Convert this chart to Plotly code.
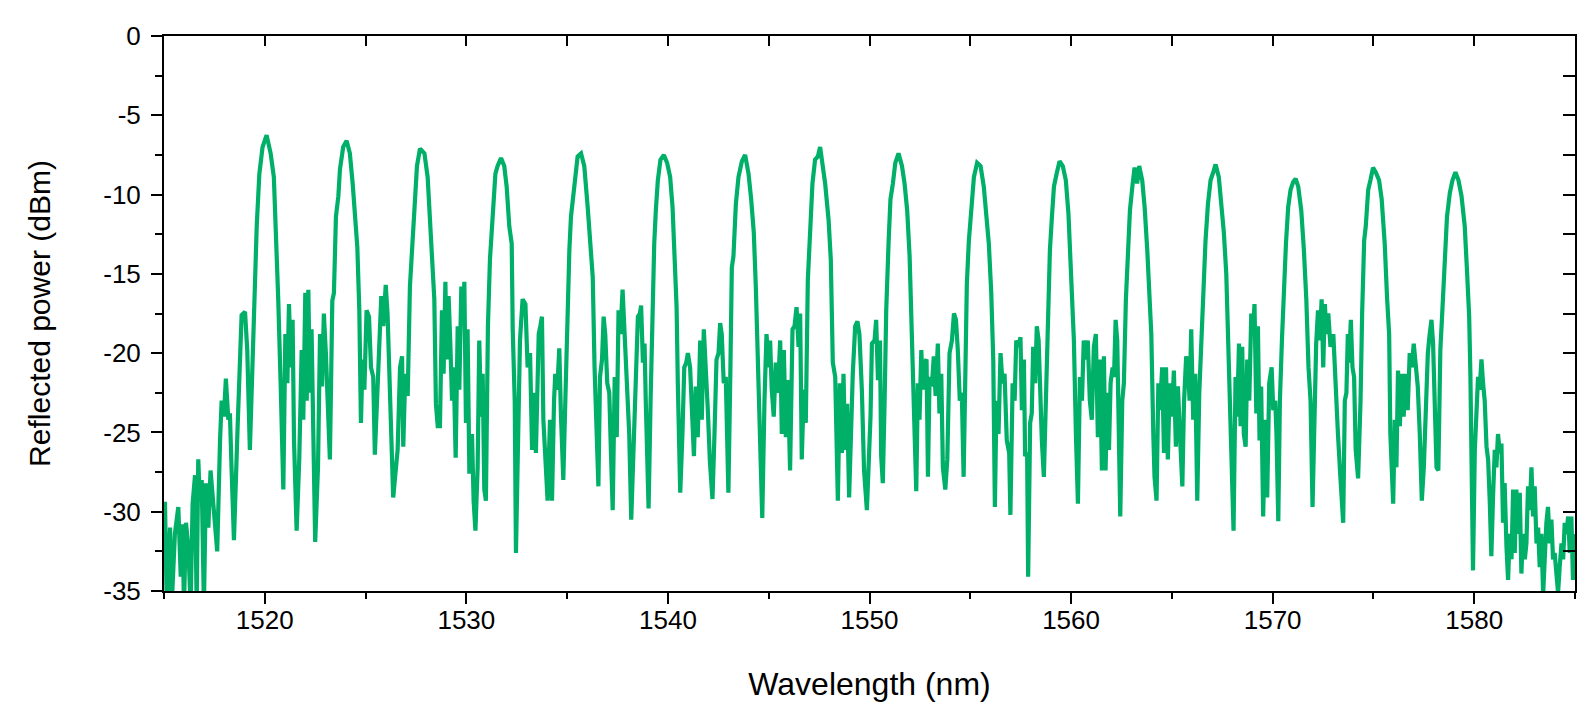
import plotly.graph_objects as go

# (wavelength nm, reflected power dBm), segment by segment
seg_1515_1526 = [
    (1515.00, -29.5), (1515.05, -29.5), (1515.13, -35.5), (1515.30, -31.0), (1515.38, -36.0),
    (1515.54, -31.4), (1515.71, -29.7), (1515.83, -34.1), (1515.92, -30.8), (1515.99, -36.0),
    (1516.09, -30.7), (1516.21, -32.3), (1516.32, -36.0), (1516.42, -29.5), (1516.54, -27.7),
    (1516.62, -36.0), (1516.70, -26.7), (1516.78, -29.3), (1516.87, -28.0), (1516.98, -36.0),
    (1517.08, -28.2), (1517.20, -31.0), (1517.31, -27.4), (1517.45, -29.5), (1517.53, -31.4),
    (1517.64, -32.5), (1517.78, -25.5), (1517.86, -23.0), (1517.97, -24.0), (1518.07, -21.6),
    (1518.19, -24.2), (1518.27, -23.8), (1518.35, -27.2), (1518.47, -31.8), (1518.64, -25.1),
    (1518.77, -19.8), (1518.85, -17.6), (1519.02, -17.4), (1519.13, -19.8), (1519.26, -26.1),
    (1519.36, -21.9), (1519.48, -16.7), (1519.60, -12.0), (1519.73, -8.7), (1519.89, -7.0),
    (1520.09, -6.25), (1520.29, -7.4), (1520.45, -8.9), (1520.55, -12.2), (1520.67, -16.7),
    (1520.79, -22.1), (1520.92, -28.6), (1521.02, -18.8), (1521.12, -21.9), (1521.20, -16.9),
    (1521.30, -20.9), (1521.38, -17.9), (1521.45, -25.5), (1521.58, -31.2), (1521.71, -26.7),
    (1521.83, -19.8), (1521.91, -24.2), (1522.01, -16.2), (1522.08, -23.0), (1522.16, -16.0),
    (1522.24, -22.5), (1522.32, -18.5), (1522.41, -26.1), (1522.50, -31.9), (1522.64, -27.2),
    (1522.74, -18.8), (1522.84, -22.1), (1522.93, -17.5), (1523.03, -20.0), (1523.15, -25.1),
    (1523.23, -26.7), (1523.35, -16.7), (1523.43, -16.2), (1523.53, -11.4), (1523.65, -10.1),
    (1523.73, -8.4), (1523.89, -7.0), (1524.06, -6.6), (1524.22, -7.4), (1524.36, -9.3),
    (1524.47, -11.0), (1524.59, -13.3), (1524.69, -17.3), (1524.77, -24.4), (1524.85, -20.4),
    (1524.94, -22.3), (1525.05, -17.3), (1525.17, -17.7), (1525.27, -20.9), (1525.38, -21.5),
    (1525.46, -26.4), (1525.58, -23.0), (1525.68, -19.2), (1525.78, -16.4), (1525.88, -18.3),
    (1526.00, -15.7), (1526.09, -17.5), (1526.18, -20.9), (1526.26, -25.5), (1526.37, -29.1),
]

seg_1526_1538 = [
    (1526.59, -26.1), (1526.71, -20.9), (1526.81, -20.2), (1526.87, -25.9), (1526.97, -21.3),
    (1527.09, -22.7), (1527.20, -15.8), (1527.30, -13.5), (1527.42, -10.1), (1527.55, -8.2),
    (1527.70, -7.1), (1527.92, -7.4), (1528.08, -8.9), (1528.20, -11.4), (1528.30, -13.3),
    (1528.41, -16.6), (1528.49, -23.2), (1528.58, -24.6), (1528.69, -24.6), (1528.79, -17.3),
    (1528.87, -21.3), (1528.96, -15.5), (1529.02, -20.4), (1529.12, -16.4), (1529.21, -19.6),
    (1529.29, -23.0), (1529.37, -20.9), (1529.47, -26.6), (1529.57, -18.3), (1529.65, -22.3),
    (1529.75, -15.8), (1529.85, -17.7), (1529.90, -15.5), (1529.98, -24.4), (1530.06, -18.5),
    (1530.15, -27.6), (1530.28, -25.1), (1530.36, -29.3), (1530.45, -31.2), (1530.56, -27.2),
    (1530.64, -19.2), (1530.73, -24.0), (1530.81, -21.3), (1530.89, -28.6), (1530.97, -29.3),
    (1531.07, -18.3), (1531.17, -14.1), (1531.30, -11.4), (1531.44, -8.7), (1531.55, -8.2),
    (1531.72, -7.7), (1531.88, -8.2), (1532.00, -9.5), (1532.13, -12.0), (1532.25, -13.1),
    (1532.30, -18.5), (1532.40, -23.0), (1532.46, -32.6), (1532.58, -23.0), (1532.66, -19.2),
    (1532.79, -16.6), (1532.93, -16.9), (1533.04, -20.9), (1533.16, -20.0), (1533.26, -26.1),
    (1533.36, -22.5), (1533.45, -26.3), (1533.59, -18.8), (1533.67, -18.3), (1533.75, -17.7),
    (1533.82, -24.2), (1533.92, -26.7), (1534.03, -29.3), (1534.15, -24.2), (1534.25, -29.3),
    (1534.35, -23.0), (1534.41, -21.3), (1534.51, -22.3), (1534.61, -19.7), (1534.69, -23.8),
    (1534.81, -28.0), (1534.91, -23.0), (1535.03, -16.0), (1535.11, -13.5), (1535.19, -11.4),
    (1535.31, -9.9), (1535.41, -8.7), (1535.52, -7.6), (1535.69, -7.4), (1535.85, -8.2),
    (1536.02, -10.8), (1536.13, -13.1), (1536.27, -15.2), (1536.36, -20.9), (1536.43, -23.4),
    (1536.55, -28.4), (1536.63, -21.5), (1536.73, -20.4), (1536.81, -17.7), (1536.89, -18.8),
    (1536.99, -21.9), (1537.09, -22.5), (1537.17, -26.1), (1537.26, -29.9), (1537.36, -21.5),
    (1537.46, -25.3), (1537.55, -17.3), (1537.64, -18.8), (1537.75, -16.0), (1537.85, -18.8),
    (1537.95, -22.5), (1538.08, -25.1), (1538.18, -30.5),
]

seg_1538_1550 = [
    (1538.34, -25.1), (1538.41, -21.9), (1538.51, -17.7), (1538.61, -17.5), (1538.67, -17.0),
    (1538.76, -20.6), (1538.84, -19.4), (1538.90, -23.0), (1538.97, -26.1), (1539.04, -29.8),
    (1539.14, -23.0), (1539.24, -16.6), (1539.32, -13.1), (1539.40, -11.0), (1539.50, -9.1),
    (1539.63, -7.8), (1539.80, -7.5), (1539.96, -8.0), (1540.11, -8.9), (1540.23, -10.8),
    (1540.33, -13.5), (1540.43, -17.1), (1540.49, -21.9), (1540.61, -28.8), (1540.72, -25.1),
    (1540.81, -20.9), (1540.91, -20.6), (1540.99, -20.0), (1541.10, -20.9), (1541.19, -23.0),
    (1541.29, -26.5), (1541.38, -22.1), (1541.48, -25.3), (1541.60, -19.2), (1541.68, -24.2),
    (1541.78, -18.5), (1541.88, -20.6), (1541.98, -23.6), (1542.08, -26.8), (1542.21, -29.2),
    (1542.31, -25.1), (1542.41, -20.4), (1542.51, -20.0), (1542.59, -18.1), (1542.67, -18.8),
    (1542.77, -21.9), (1542.87, -21.5), (1543.00, -28.8), (1543.10, -20.9), (1543.17, -14.6),
    (1543.25, -13.9), (1543.37, -10.6), (1543.50, -8.9), (1543.67, -7.9), (1543.83, -7.5),
    (1544.00, -8.7), (1544.13, -10.3), (1544.26, -12.4), (1544.36, -15.8), (1544.46, -20.0),
    (1544.56, -24.0), (1544.68, -30.4), (1544.79, -23.0), (1544.89, -18.8), (1545.00, -20.9),
    (1545.07, -19.2), (1545.15, -22.3), (1545.25, -24.0), (1545.35, -20.6), (1545.45, -22.5),
    (1545.57, -19.2), (1545.65, -25.1), (1545.75, -19.8), (1545.85, -25.3), (1545.95, -21.7),
    (1546.06, -27.4), (1546.18, -18.5), (1546.28, -18.3), (1546.38, -17.1), (1546.48, -19.6),
    (1546.56, -17.5), (1546.64, -26.7), (1546.74, -22.3), (1546.84, -24.4), (1546.94, -15.4),
    (1547.06, -11.6), (1547.17, -9.3), (1547.30, -7.8), (1547.44, -7.6), (1547.55, -7.0),
    (1547.67, -8.0), (1547.80, -9.3), (1547.97, -11.6), (1548.08, -14.1), (1548.18, -20.6),
    (1548.30, -21.5), (1548.43, -29.3), (1548.53, -21.9), (1548.63, -26.3), (1548.71, -21.3),
    (1548.79, -26.1), (1548.89, -23.2), (1548.99, -29.1), (1549.09, -23.0), (1549.17, -21.3),
    (1549.29, -18.3), (1549.40, -18.0), (1549.50, -18.8), (1549.62, -22.3), (1549.73, -27.4),
    (1549.87, -29.9),
]

seg_1550_1561 = [
    (1550.05, -24.0), (1550.12, -19.4), (1550.25, -19.2), (1550.33, -17.9), (1550.42, -21.7),
    (1550.52, -19.2), (1550.58, -26.5), (1550.66, -28.2), (1550.75, -23.0), (1550.83, -17.3),
    (1550.95, -12.9), (1551.04, -10.3), (1551.16, -9.3), (1551.28, -8.0), (1551.44, -7.4),
    (1551.61, -8.2), (1551.74, -9.3), (1551.87, -11.0), (1551.99, -13.9), (1552.07, -17.5),
    (1552.15, -21.5), (1552.23, -24.0), (1552.32, -28.7), (1552.40, -21.9), (1552.48, -24.2),
    (1552.57, -19.8), (1552.65, -22.3), (1552.73, -20.6), (1552.83, -20.4), (1552.90, -27.8),
    (1552.98, -21.5), (1553.09, -22.1), (1553.19, -20.2), (1553.28, -22.7), (1553.39, -19.4),
    (1553.47, -23.8), (1553.56, -21.3), (1553.64, -27.2), (1553.76, -28.6), (1553.86, -26.7),
    (1553.97, -20.0), (1554.09, -19.2), (1554.19, -17.5), (1554.29, -17.9), (1554.38, -19.8),
    (1554.48, -23.0), (1554.58, -22.5), (1554.67, -27.8), (1554.75, -21.3), (1554.83, -15.6),
    (1554.93, -12.9), (1555.05, -10.8), (1555.18, -8.9), (1555.34, -8.0), (1555.51, -8.2),
    (1555.67, -9.5), (1555.81, -11.4), (1555.92, -13.1), (1556.04, -16.2), (1556.14, -20.4),
    (1556.22, -29.7), (1556.30, -23.0), (1556.40, -25.1), (1556.50, -20.0), (1556.60, -21.9),
    (1556.70, -21.3), (1556.81, -25.5), (1556.93, -26.3), (1556.99, -30.2), (1557.10, -21.9),
    (1557.20, -23.0), (1557.28, -19.2), (1557.39, -19.6), (1557.49, -19.0), (1557.56, -23.6),
    (1557.66, -20.4), (1557.72, -26.5), (1557.82, -26.3), (1557.87, -34.1), (1557.97, -24.4),
    (1558.05, -23.8), (1558.12, -19.6), (1558.22, -21.9), (1558.30, -18.3), (1558.39, -19.2),
    (1558.47, -23.6), (1558.55, -25.5), (1558.65, -27.8), (1558.77, -21.3), (1558.85, -17.7),
    (1558.95, -13.5), (1559.05, -11.4), (1559.15, -9.5), (1559.28, -8.7), (1559.43, -7.9),
    (1559.59, -8.2), (1559.74, -9.1), (1559.87, -11.2), (1560.01, -15.0), (1560.14, -19.2),
    (1560.24, -25.1), (1560.34, -29.5), (1560.44, -21.5), (1560.54, -23.0), (1560.63, -19.2),
    (1560.75, -20.4), (1560.83, -19.2), (1560.93, -23.0), (1561.03, -24.2), (1561.13, -19.6),
    (1561.23, -18.8), (1561.33, -25.3), (1561.43, -20.4), (1561.53, -27.4),
]

seg_1561_1573 = [
    (1561.63, -20.2), (1561.71, -27.4), (1561.80, -22.5), (1561.88, -26.1), (1561.96, -21.9),
    (1562.06, -20.9), (1562.13, -21.5), (1562.21, -17.9), (1562.29, -19.2), (1562.36, -24.6),
    (1562.44, -30.3), (1562.54, -23.0), (1562.62, -21.9), (1562.72, -16.6), (1562.82, -12.9),
    (1562.92, -11.0), (1563.04, -9.5), (1563.15, -8.3), (1563.28, -9.3), (1563.38, -8.2),
    (1563.53, -9.1), (1563.65, -10.8), (1563.78, -13.5), (1563.88, -15.8), (1563.98, -18.8),
    (1564.08, -25.1), (1564.14, -27.8), (1564.24, -29.3), (1564.33, -21.9), (1564.41, -23.6),
    (1564.52, -20.9), (1564.61, -26.3), (1564.71, -20.9), (1564.80, -26.7), (1564.90, -21.9),
    (1565.00, -24.0), (1565.10, -21.1), (1565.20, -25.9), (1565.30, -22.1), (1565.40, -25.1),
    (1565.52, -28.4), (1565.60, -23.2), (1565.71, -20.2), (1565.80, -20.9), (1565.88, -23.0),
    (1565.96, -18.5), (1566.06, -24.2), (1566.16, -21.3), (1566.26, -29.3), (1566.36, -22.5),
    (1566.46, -18.8), (1566.56, -15.8), (1566.67, -12.9), (1566.79, -10.6), (1566.92, -9.1),
    (1567.05, -8.6), (1567.17, -8.1), (1567.33, -8.9), (1567.45, -10.3), (1567.58, -12.4),
    (1567.70, -15.0), (1567.78, -18.8), (1567.88, -23.0), (1567.96, -26.3), (1568.06, -31.2),
    (1568.16, -21.5), (1568.24, -24.0), (1568.33, -19.4), (1568.41, -24.6), (1568.49, -19.6),
    (1568.57, -25.1), (1568.66, -25.9), (1568.74, -20.4), (1568.84, -23.0), (1568.94, -17.5),
    (1569.02, -18.8), (1569.10, -16.9), (1569.19, -23.8), (1569.27, -18.3), (1569.35, -25.5),
    (1569.43, -22.1), (1569.53, -30.3), (1569.63, -24.2), (1569.73, -29.1), (1569.83, -21.9),
    (1569.95, -20.9), (1570.03, -23.6), (1570.13, -23.0), (1570.19, -25.1), (1570.28, -30.6),
    (1570.36, -23.0), (1570.46, -19.2), (1570.56, -15.8), (1570.66, -13.1), (1570.77, -10.8),
    (1570.89, -9.7), (1571.02, -9.2), (1571.14, -9.0), (1571.27, -9.5), (1571.42, -11.0),
    (1571.55, -13.5), (1571.67, -16.6), (1571.78, -20.9), (1571.88, -23.0), (1571.98, -29.7),
    (1572.08, -23.0), (1572.16, -19.4), (1572.25, -17.3), (1572.34, -19.2), (1572.43, -16.6),
    (1572.51, -20.9), (1572.59, -16.9), (1572.67, -18.8), (1572.76, -17.5), (1572.87, -19.6),
    (1573.01, -18.8), (1573.12, -22.5), (1573.24, -25.1),
]

seg_1573_1585 = [
    (1573.36, -27.8), (1573.50, -30.7), (1573.58, -23.0), (1573.66, -22.5), (1573.73, -18.8),
    (1573.79, -20.6), (1573.88, -17.9), (1573.96, -20.9), (1574.04, -21.5), (1574.12, -26.1),
    (1574.24, -27.9), (1574.36, -23.0), (1574.44, -17.5), (1574.54, -12.9), (1574.62, -12.0),
    (1574.74, -9.7), (1574.85, -9.1), (1574.98, -8.3), (1575.12, -8.6), (1575.28, -9.1),
    (1575.41, -10.3), (1575.56, -13.1), (1575.68, -16.6), (1575.78, -18.8), (1575.84, -25.1),
    (1575.91, -27.8), (1575.98, -29.5), (1576.06, -24.2), (1576.14, -27.2), (1576.22, -21.1),
    (1576.31, -24.6), (1576.41, -21.3), (1576.50, -24.0), (1576.60, -21.3), (1576.70, -23.6),
    (1576.80, -20.0), (1576.90, -20.9), (1577.00, -19.4), (1577.10, -20.9), (1577.20, -22.1),
    (1577.30, -25.1), (1577.40, -29.3), (1577.50, -27.2), (1577.60, -24.0), (1577.70, -20.0),
    (1577.79, -18.8), (1577.88, -17.9), (1577.96, -19.4), (1578.04, -23.0), (1578.13, -27.2),
    (1578.22, -27.4), (1578.32, -19.8), (1578.42, -17.3), (1578.54, -13.7), (1578.65, -11.4),
    (1578.79, -9.9), (1578.92, -9.1), (1579.07, -8.6), (1579.22, -9.1), (1579.37, -10.1),
    (1579.53, -12.0), (1579.65, -15.0), (1579.75, -17.7), (1579.81, -21.3), (1579.88, -27.2),
    (1579.94, -33.7), (1580.03, -26.1), (1580.11, -23.0), (1580.19, -21.5), (1580.27, -22.3),
    (1580.36, -20.4), (1580.44, -21.9), (1580.52, -23.0), (1580.61, -25.9), (1580.69, -26.7),
    (1580.77, -29.3), (1580.85, -32.8), (1580.94, -28.8), (1581.02, -26.1), (1581.10, -27.2),
    (1581.18, -25.1), (1581.27, -26.3), (1581.35, -25.7), (1581.43, -30.7), (1581.51, -28.2),
    (1581.60, -32.2), (1581.68, -34.3), (1581.76, -31.4), (1581.85, -33.0), (1581.93, -28.6),
    (1582.01, -32.6), (1582.09, -28.6), (1582.18, -31.4), (1582.26, -28.8), (1582.34, -33.9),
    (1582.42, -31.4), (1582.51, -33.0), (1582.59, -32.0), (1582.67, -28.4), (1582.75, -29.9),
    (1582.84, -27.2), (1582.92, -30.3), (1583.00, -28.4), (1583.09, -32.0), (1583.17, -31.0),
    (1583.25, -33.5), (1583.33, -31.4), (1583.42, -35.2), (1583.50, -32.2), (1583.58, -30.7),
    (1583.66, -29.7), (1583.75, -32.0), (1583.83, -30.5), (1583.91, -33.0), (1583.99, -32.6),
    (1584.08, -34.1), (1584.16, -35.1), (1584.24, -33.5), (1584.33, -32.0), (1584.41, -33.0),
    (1584.49, -30.7), (1584.57, -31.4), (1584.66, -30.3), (1584.74, -32.6), (1584.82, -30.3),
    (1584.90, -34.3), (1584.99, -31.4),
]

x_range = [1515, 1585]
y_range = [-35, 0]
x_tick_step = 10
y_tick_values = [0, -5, -10, -15, -20, -25, -30, -35]
y_tick_labels = ["0", "-5", "-10", "-15", "-20", "-25", "-30", "-35"]

segments = [seg_1515_1526, seg_1526_1538, seg_1538_1550,
            seg_1550_1561, seg_1561_1573, seg_1573_1585]
wavelength = [p[0] for s in segments for p in s]
power = [p[1] for s in segments for p in s]

GREEN = "#00AF68"
FONT = "Arial, Liberation Sans, sans-serif"

fig = go.Figure()
fig.add_trace(go.Scatter(
    x=wavelength, y=power, mode="lines",
    line=dict(color=GREEN, width=4.2), showlegend=False,
    hoverinfo="x+y",
))
# helper trace so the mirrored (top / right) axes are drawn
fig.add_trace(go.Scatter(x=[], y=[], xaxis="x2", yaxis="y2", showlegend=False))

axis_common = dict(showgrid=False, zeroline=False, color="black")

fig.update_layout(
    width=1594, height=722,
    margin=dict(l=164, r=19, t=36, b=131),
    paper_bgcolor="white", plot_bgcolor="white",
    font=dict(family=FONT, color="black", size=26),
    xaxis=dict(
        **axis_common, range=x_range, dtick=x_tick_step, tick0=1520,
        showline=True, linecolor="black", linewidth=2, mirror=True,
        ticks="outside", ticklen=11, tickwidth=2, tickcolor="black",
        minor=dict(dtick=x_tick_step / 2, tick0=1515, ticks="outside",
                   ticklen=6, tickwidth=2, tickcolor="black"),
        tickfont=dict(size=26), ticklabelstandoff=-6,
        title=dict(text="Wavelength (nm)", font=dict(size=32), standoff=38),
    ),
    yaxis=dict(
        **axis_common, range=y_range, tickmode="array",
        tickvals=y_tick_values, ticktext=y_tick_labels,
        showline=True, linecolor="black", linewidth=2, mirror=True,
        ticks="outside", ticklen=11, tickwidth=2, tickcolor="black",
        minor=dict(dtick=2.5, ticks="outside",
                   ticklen=7, tickwidth=2, tickcolor="black"),
        tickfont=dict(size=26), ticklabelstandoff=5,
        title=dict(text="Reflected power (dBm)", font=dict(size=30), standoff=44),
    ),
    xaxis2=dict(
        **axis_common, range=x_range, overlaying="x", side="top", anchor="y2",
        dtick=x_tick_step / 2, tick0=1515, ticks="inside", ticklen=10,
        tickwidth=2, tickcolor="black", showticklabels=False, showline=False,
    ),
    yaxis2=dict(
        **axis_common, range=y_range, overlaying="y", side="right", anchor="x2",
        dtick=2.5, ticks="inside", ticklen=12,
        tickwidth=2, tickcolor="black", showticklabels=False, showline=False,
    ),
)

fig.write_html("out.html")
